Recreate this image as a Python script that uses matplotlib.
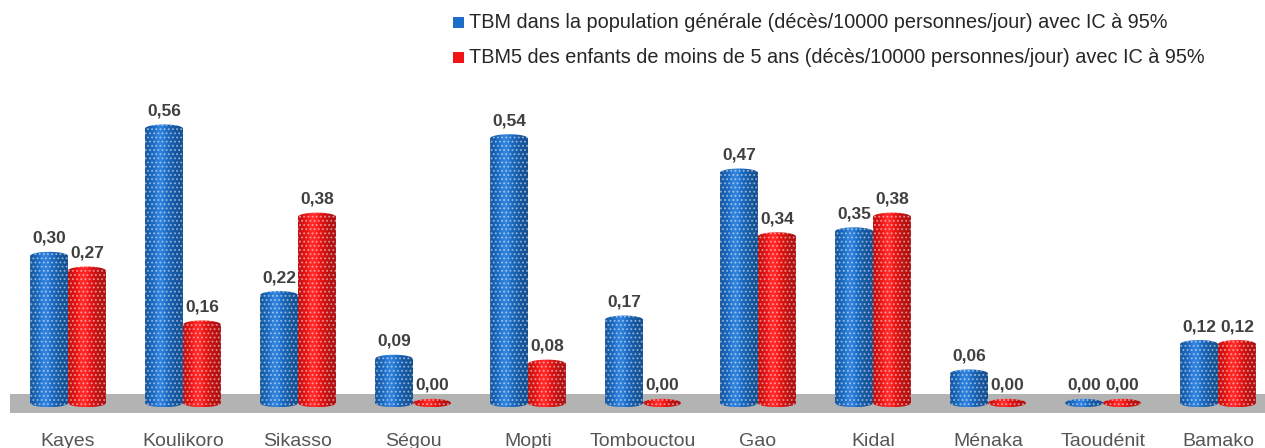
import numpy as np
import matplotlib
matplotlib.use("Agg")
import matplotlib.pyplot as plt
from matplotlib.patches import Polygon, Rectangle
from matplotlib.colors import to_rgb

regions = ["Kayes", "Koulikoro", "Sikasso", "Ségou", "Mopti", "Tombouctou",
           "Gao", "Kidal", "Ménaka", "Taoudénit", "Bamako"]
tbm = [0.30, 0.56, 0.22, 0.09, 0.54, 0.17, 0.47, 0.35, 0.06, 0.00, 0.12]
tbm5 = [0.27, 0.16, 0.38, 0.00, 0.08, 0.00, 0.34, 0.38, 0.00, 0.00, 0.12]
legend_labels = [
    "TBM dans la population générale (décès/10000 personnes/jour) avec IC à 95%",
    "TBM5 des enfants de moins de 5 ans (décès/10000 personnes/jour) avec IC à 95%",
]

plt.rcParams["font.family"] = ["Liberation Sans", "DejaVu Sans"]
plt.rcParams["hatch.linewidth"] = 0.9

BLUE = "#1c6ec8"
RED = "#f01616"

fig = plt.figure(figsize=(12.65, 4.48), dpi=100)
ax = fig.add_axes([0, 0, 1, 1])
ax.set_xlim(-0.5913, 10.4087)
ax.set_ylim(-0.0918, 0.8224)
ax.axis("off")

# grey floor
ax.add_patch(Rectangle((-0.504, -0.0204), 11.5, 0.0388, facecolor="#b3b3b3",
                       edgecolor="none", zorder=1))

w = 0.33
eh = 0.0085  # half height of the cylinder ellipses


def shade(color):
    base = np.array(to_rgb(color))
    t = np.linspace(0, 1, 60)
    # slightly darker edges, a touch lighter left of centre
    k = 0.72 + 0.36 * np.exp(-((t - 0.4) / 0.32) ** 2)
    row = np.clip(base[None, :] * np.minimum(k, 1)[:, None]
                  + np.maximum(k - 1, 0)[:, None], 0, 1)
    return row[None, :, :]


def cylinder(x0, h, color):
    th = np.linspace(np.pi, 2 * np.pi, 40)
    xc = x0 + w / 2
    bot = np.column_stack([xc + w / 2 * np.cos(th), eh * np.sin(th)])
    th2 = np.linspace(0, np.pi, 40)
    top = np.column_stack([xc + w / 2 * np.cos(th2), h + eh * np.sin(th2)])
    outline = np.vstack([bot, top])
    poly = Polygon(outline, closed=True, facecolor="none",
                   edgecolor="none", zorder=3)
    ax.add_patch(poly)
    im = ax.imshow(shade(color), extent=[x0, x0 + w, -eh, h + eh],
                   aspect="auto", zorder=3, interpolation="bilinear")
    im.set_clip_path(poly)
    ax.add_patch(Polygon(outline, closed=True, fill=False,
                         edgecolor=(1, 1, 1, 0.45), linewidth=0,
                         hatch="....", zorder=4))


x = np.arange(len(regions))
for i in x:
    for j, (vals, col) in enumerate([(tbm, BLUE), (tbm5, RED)]):
        v = vals[i]
        x0 = i - w + j * w
        cylinder(x0, v, col)
        ax.text(x0 + w / 2, v + eh + 0.012, f"{v:.2f}".replace(".", ","),
                ha="center", va="bottom", fontsize=12.5, fontweight="bold",
                color="#404040", zorder=5)
    ax.text(i, -0.062, regions[i], ha="center", va="top", fontsize=14,
            color="#555555")

# legend
for k, (lab, col) in enumerate(zip(legend_labels, [BLUE, RED])):
    yk = 1 - (22.5 + 35 * k) / 448
    fig.patches.append(Rectangle((453 / 1265, yk - 5.5 / 448), 11 / 1265,
                                 11 / 448, transform=fig.transFigure,
                                 facecolor=col, edgecolor="none", figure=fig))
    fig.text(469 / 1265, yk, lab, ha="left", va="center", fontsize=14.3,
             color="#262626")

fig.savefig("out.png", dpi=100)
